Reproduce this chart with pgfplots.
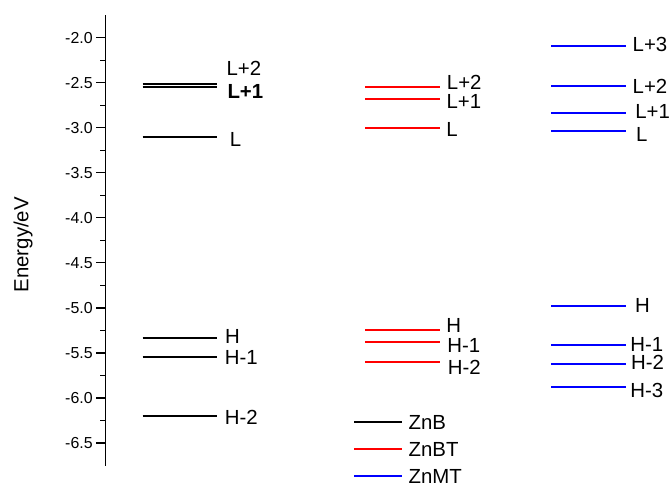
\documentclass[border=0pt]{standalone}
\usepackage{fontspec}
\setmainfont{Liberation Sans}
\usepackage{pgfplots}
\pgfplotsset{compat=1.18}

% Orbital energy levels (eV); x runs in drawing units, each level is a short segment
\pgfplotstableread{
x      y
142.7  -2.5133
217.3  -2.5133
nan    nan
142.7  -2.5465
217.3  -2.5465
nan    nan
142.7  -3.1009
217.3  -3.1009
nan    nan
142.7  -5.3292
217.3  -5.3292
nan    nan
142.7  -5.5399
217.3  -5.5399
nan    nan
142.7  -6.2051
217.3  -6.2051
}\ZnB

\pgfplotstableread{
x      y
365.7  -2.5465
440.7  -2.5465
nan    nan
365.7  -2.6796
440.7  -2.6796
nan    nan
365.7  -3.0011
440.7  -3.0011
nan    nan
365.7  -5.2405
440.7  -5.2405
nan    nan
365.7  -5.3736
440.7  -5.3736
nan    nan
365.7  -5.5953
440.7  -5.5953
}\ZnBT

\pgfplotstableread{
x      y
551.7  -2.0920
626.7  -2.0920
nan    nan
551.7  -2.5354
626.7  -2.5354
nan    nan
551.7  -2.8348
626.7  -2.8348
nan    nan
551.7  -3.0343
626.7  -3.0343
nan    nan
551.7  -4.9745
626.7  -4.9745
nan    nan
551.7  -5.4068
626.7  -5.4068
nan    nan
551.7  -5.6175
626.7  -5.6175
nan    nan
551.7  -5.8725
626.7  -5.8725
}\ZnMT

\begin{document}
\begin{tikzpicture}[
  lbl/.style={anchor=west, inner sep=0pt, font=\fontsize{20.5}{24}\selectfont}
]
\begin{axis}[
  scale only axis,
  width=564.7bp, height=451bp,
  xmin=105.3, xmax=670,
  ymin=-6.75, ymax=-1.75,
  axis x line=none,
  axis y line=left,
  axis line style={-, line width=1.2bp},
  ytick={-6.5,-6.0,-5.5,-5.0,-4.5,-4.0,-3.5,-3.0,-2.5,-2.0},
  minor y tick num=1,
  tick align=outside,
  major tick length=9bp,
  minor tick length=5bp,
  tick style={line width=1.2bp, black},
  /pgf/number format/assume math mode=true,
  yticklabel style={font=\fontsize{16}{18}\selectfont,
    /pgf/number format/fixed,
    /pgf/number format/fixed zerofill,
    /pgf/number format/precision=1},
  ylabel={Energy/eV},
  ylabel style={at={(axis cs:28.3,-4.298)}, anchor=base,
    font=\fontsize{20.5}{24}\selectfont},
  clip=false,
  unbounded coords=jump,
  legend style={draw=none, fill=none, inner sep=0pt,
    at={(axis cs:353.3,-6.5709)}, anchor=west,
    font=\fontsize{20.5}{24}\selectfont,
    nodes={inner sep=0pt, text height=15bp, text depth=0bp},
    row sep=12bp, column sep=5.3bp},
  legend cell align=left,
  legend image code/.code={\draw[#1, line width=2bp] (0bp,0bp) -- (48.4bp,0bp);},
]
\addplot[black, line width=2bp] table {\ZnB};
\addlegendentry{ZnB}
\addplot[red, line width=2bp] table {\ZnBT};
\addlegendentry{ZnBT}
\addplot[blue, line width=2bp] table {\ZnMT};
\addlegendentry{ZnMT}

% level names
\node[lbl] at (axis cs:226.7,-2.345) {L+2};
\node[lbl] at (axis cs:227.6,-2.602) {\bfseries L+1};
\node[lbl] at (axis cs:230.0,-3.125) {L};
\node[lbl] at (axis cs:225.3,-5.313) {H};
\node[lbl] at (axis cs:225.0,-5.554) {H-1};
\node[lbl] at (axis cs:225.0,-6.216) {H-2};

\node[lbl] at (axis cs:447.3,-2.500) {L+2};
\node[lbl] at (axis cs:447.0,-2.710) {L+1};
\node[lbl] at (axis cs:446.7,-3.014) {L};
\node[lbl] at (axis cs:446.7,-5.194) {H};
\node[lbl] at (axis cs:447.7,-5.421) {H-1};
\node[lbl] at (axis cs:448.3,-5.660) {H-2};

\node[lbl] at (axis cs:633.3,-2.075) {L+3};
\node[lbl] at (axis cs:633.3,-2.538) {L+2};
\node[lbl] at (axis cs:636.0,-2.824) {L+1};
\node[lbl] at (axis cs:636.7,-3.070) {L};
\node[lbl] at (axis cs:635.7,-4.972) {H};
\node[lbl] at (axis cs:631.0,-5.401) {H-1};
\node[lbl] at (axis cs:631.7,-5.610) {H-2};
\node[lbl] at (axis cs:631.0,-5.914) {H-3};

% page frame
\path (axis cs:0,-1.582) (axis cs:670,-7.0);
\end{axis}
\end{tikzpicture}
\end{document}
